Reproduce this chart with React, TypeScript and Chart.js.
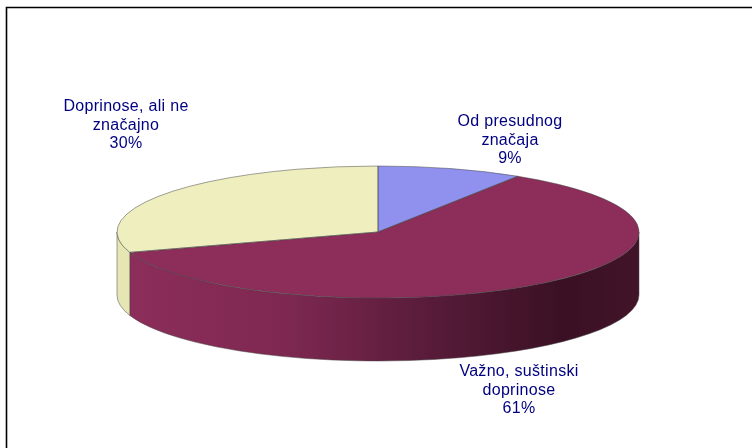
import React, { useEffect, useRef } from "react";
import { Chart, registerables } from "chart.js";

Chart.register(...registerables);

const categories = ["Od presudnog\nznačaja", "Važno, suštinski\ndoprinose", "Doprinose, ali ne\nznačajno"];
const values = [9, 61, 30];
const sliceColors = ["#9090ee", "#8c2d5a", "#eeeebe"];
const labelCenters = [[510, 122], [519, 372], [126, 107]];

const pieCenter = { x: 378, y: 232 };
const pieRx = 261;
const pieRy = 66;
const pieDepth = 63;

function wallFill(ctx: CanvasRenderingContext2D, index: number) {
  if (index === 1) {
    const g = ctx.createLinearGradient(132, 0, 640, 0);
    g.addColorStop(0, "#8c2d5a");
    g.addColorStop(0.3, "#7e2851");
    g.addColorStop(0.6, "#561b38");
    g.addColorStop(0.85, "#3a1024");
    g.addColorStop(1, "#431429");
    return g;
  }
  if (index === 2) return "#e6e6b4";
  return "#6c6cb4";
}

const pie3d = {
  id: "pie3d",
  beforeDatasetsDraw(chart: any) {
    const { ctx } = chart;
    const arcs = chart.getDatasetMeta(0).data;
    const TAU = Math.PI * 2;

    // frame
    ctx.save();
    ctx.strokeStyle = "#000";
    ctx.lineWidth = 1.6;
    ctx.beginPath();
    ctx.moveTo(6.5, 448);
    ctx.lineTo(6.5, 7.5);
    ctx.lineTo(752, 7.5);
    ctx.stroke();

    // walls, from the arc angles
    arcs.forEach((arc: any, i: number) => {
      for (const shift of [0, TAU, -TAU]) {
        const a0 = Math.max(arc.startAngle + shift, 0);
        const a1 = Math.min(arc.endAngle + shift, Math.PI);
        if (a1 <= a0) continue;
        ctx.beginPath();
        ctx.ellipse(pieCenter.x, pieCenter.y, pieRx, pieRy, 0, a0, a1);
        ctx.ellipse(pieCenter.x, pieCenter.y + pieDepth, pieRx, pieRy, 0, a1, a0, true);
        ctx.closePath();
        ctx.fillStyle = wallFill(ctx, i);
        ctx.fill();
        ctx.strokeStyle = "rgba(70,70,70,0.5)";
        ctx.lineWidth = 1;
        ctx.stroke();
      }
    });
    ctx.restore();

    // squash the library's circle into the ellipse of the top face
    const first = arcs[0];
    ctx.save();
    ctx.translate(pieCenter.x, pieCenter.y);
    ctx.scale(pieRx / first.outerRadius, pieRy / first.outerRadius);
    ctx.translate(-first.x, -first.y);
  },
  afterDatasetsDraw(chart: any) {
    const { ctx } = chart;
    ctx.restore();
    const arcs = chart.getDatasetMeta(0).data;
    const total = values.reduce((a, b) => a + b, 0);

    ctx.save();
    arcs.forEach((arc: any) => {
      ctx.beginPath();
      ctx.moveTo(pieCenter.x, pieCenter.y);
      ctx.ellipse(pieCenter.x, pieCenter.y, pieRx, pieRy, 0, arc.startAngle, arc.endAngle);
      ctx.closePath();
      ctx.strokeStyle = "rgba(70,70,70,0.5)";
      ctx.lineWidth = 1;
      ctx.stroke();
    });

    ctx.fillStyle = "#000080";
    ctx.font = '16px "Liberation Sans"';
    (ctx as any).letterSpacing = "0.3px";
    ctx.textAlign = "center";
    ctx.textBaseline = "middle";
    categories.forEach((c, i) => {
      const lines = c.split("\n");
      lines.push(Math.round((values[i] / total) * 100) + "%");
      lines.forEach((line, j) => {
        ctx.fillText(line, labelCenters[i][0], labelCenters[i][1] + j * 18.5);
      });
    });
    ctx.restore();
  },
};

export default function App() {
  const ref = useRef<HTMLCanvasElement>(null);
  useEffect(() => {
    const chart = new Chart(ref.current!, {
      type: "pie",
      data: {
        labels: categories,
        datasets: [{ data: values, backgroundColor: sliceColors, borderWidth: 0 }],
      },
      options: {
        responsive: false,
        animation: false,
        layout: { padding: 0 },
        plugins: { legend: { display: false }, tooltip: { enabled: false } },
      },
      plugins: [pie3d],
    } as any);
    return () => chart.destroy();
  }, []);
  return (
    <canvas
      ref={ref}
      width={752}
      height={448}
      style={{ position: "fixed", left: 0, top: 0, width: 752, height: 448 }}
    />
  );
}
